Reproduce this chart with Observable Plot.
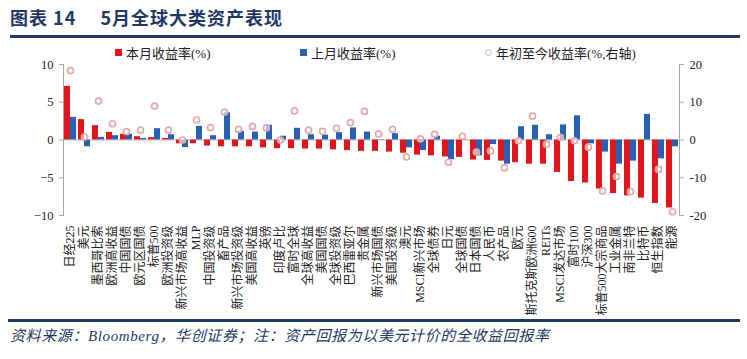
<!DOCTYPE html>
<html>
<head>
<meta charset="utf-8">
<script src="https://cdn.jsdelivr.net/npm/d3@7"></script>
<script src="https://cdn.jsdelivr.net/npm/@observablehq/plot@0.6"></script>
<style>
  html, body { margin: 0; padding: 0; background: #fff; }
  #page { position: relative; width: 747px; height: 359px; overflow: hidden; font-family: "Liberation Serif", "Noto Sans CJK SC", serif; }
  .title { position: absolute; left: 10px; top: 4px; font-family: "Noto Sans CJK SC", sans-serif; font-weight: 700; font-size: 18px; letter-spacing: 1px; color: #1f3864; white-space: pre; }
  .rule { position: absolute; background: #1f3864; }
  .legend { position: absolute; top: 43px; font-size: 13px; color: #222; white-space: nowrap; display: flex; align-items: center; }
  .sw { display: inline-block; width: 7px; height: 7px; margin-right: 4px; }
  .circ { display: inline-block; width: 5px; height: 5px; border: 1.6px solid #e3a9a9; border-radius: 50%; margin-right: 4px; }
  #chart { position: absolute; left: 0; top: 58px; }
  .caption { position: absolute; left: 10px; top: 324px; font-style: italic; font-size: 15px; letter-spacing: 0.6px; color: #1f3864; white-space: nowrap; font-family: "Liberation Serif", "Noto Sans CJK SC", serif; }
</style>
</head>
<body>
<div id="page">
  <div class="title">图表 14　 5月全球大类资产表现</div>
  <div class="rule" style="left:10px; top:35px; width:730px; height:3px;"></div>
  <div class="legend" style="left:115px;"><span class="sw" style="background:#e0161c"></span>本月收益率(%)</div>
  <div class="legend" style="left:300px;"><span class="sw" style="background:#2a5fb6"></span>上月收益率(%)</div>
  <div class="legend" style="left:485px;"><span class="circ"></span>年初至今收益率(%,右轴)</div>
  <div id="chart"></div>
  <div class="rule" style="left:8px; top:319px; width:732px; height:3px;"></div>
  <div class="caption">资料来源：Bloomberg，华创证券；注：资产回报为以美元计价的全收益回报率</div>
</div>
<script>
const categories = ["日经225","美元","墨西哥比索","欧洲高收益","中国国债","欧元区国债","标普500","欧洲投资级","新兴市场高收益","MLP","中国投资级","畜产品","新兴市场投资级","美国高收益","英镑","印度卢比","富时全球","全球高收益","美国国债","全球投资级","巴西雷亚尔","贵金属","新兴市场国债","美国投资级","澳元","MSCI新兴市场","全球债券","日元","全球国债","日本国债","人民币","农产品","欧元","斯托克斯欧洲600","REITs","MSCI发达市场","富时100","沪深300","标普500大宗商品","工业金属","南非兰特","比特币","恒生指数","能源"];
const thisMonth = [7.1, 2.7, 1.9, 1.0, 0.75, 0.44, 0.3, 0.2, -0.5, -0.5, -0.8, -0.9, -0.9, -0.9, -1.05, -1.15, -1.15, -1.2, -1.2, -1.3, -1.4, -1.5, -1.5, -1.6, -1.75, -2.0, -2.1, -2.25, -2.3, -2.65, -2.7, -2.8, -3.0, -3.2, -3.2, -4.3, -5.5, -5.7, -6.5, -7.1, -7.4, -7.7, -8.4, -9.0];
const lastMonth = [3.0, -0.9, 0.35, 0.57, 0.75, 0.2, 1.5, 0.7, -1.0, 1.8, 0.57, 3.6, 1.15, 1.05, 1.95, 0.5, 1.55, 0.7, 0.65, 0.97, 1.6, 1.05, 0.05, 0.84, -1.05, -1.4, 0.5, -2.6, -0.05, -2.1, -0.6, -3.2, 1.76, 1.95, 0.7, 2.0, 3.2, -0.5, -1.6, -3.2, -2.8, 3.4, -2.5, -0.9];
const ytd = [18.4, 0.8, 10.3, 4.3, 2.2, 2.6, 9.0, 2.6, 0, 5.3, 3.3, 7.4, 2.8, 3.6, 3.2, 0, 7.7, 2.6, 2.3, 3.1, 4.6, 7.6, 1.6, 2.8, -4.5, 0.3, 1.5, -5.9, 1.0, -3.2, -2.9, -7.4, -0.2, 6.3, -1.1, 0.7, -0.2, -1.9, -13.5, -9.7, -13.7, null, -7.8, -19.0];
const seriesNames = ["本月收益率(%)", "上月收益率(%)"];
const leftTicks = [-10, -5, 0, 5, 10];
const rightTicks = [-20, -10, 0, 10, 20];

const bars = categories.flatMap((c, i) => [
  {cat: c, s: seriesNames[0], v: thisMonth[i]},
  {cat: c, s: seriesNames[1], v: lastMonth[i]}
]);
const dots = categories.map((c, i) => ({cat: c, v: ytd[i]})).filter(d => d.v != null);

const axisColor = "#a6a6a6";
const chart = Plot.plot({
  width: 747,
  height: 262,
  marginLeft: 49,
  marginRight: 55,
  marginTop: 6,
  marginBottom: 105,
  style: {fontFamily: "'Liberation Serif', 'Noto Sans CJK SC', serif", fontSize: "12px", color: "#222", background: "transparent"},
  fx: {domain: categories, padding: 0},
  x: {domain: seriesNames, paddingInner: 0, paddingOuter: 0.11, axis: null},
  y: {domain: [-10, 10]},
  color: {domain: seriesNames, range: ["#e0161c", "#2a5fb6"]},
  marks: [
    Plot.ruleY([0], {stroke: "#bdbdbd", strokeWidth: 1}),
    Plot.barY(bars, {fx: "cat", x: "s", y: "v", fill: "s"}),
    Plot.dot(dots, {fx: "cat", y: d => d.v / 2, r: 3, stroke: "#e3a9a9", strokeWidth: 1.7, fill: "white", fillOpacity: 0.6}),
    Plot.frame({anchor: "left", facetAnchor: "left", stroke: axisColor}),
    Plot.frame({anchor: "right", facetAnchor: "right", stroke: axisColor}),
    Plot.axisY({anchor: "left", ticks: leftTicks, tickSize: 4, tickPadding: 6, stroke: axisColor, fill: "#222", label: null, fontSize: 12.5}),
    Plot.axisY({anchor: "right", ticks: rightTicks.map(t => t / 2), tickFormat: d => String(d * 2), tickSize: 4, tickPadding: 6, stroke: axisColor, fill: "#222", label: null, fontSize: 12.5}),
    Plot.axisFx({anchor: "bottom", tickRotate: -90, tickSize: 0, tickPadding: 10, label: null, fontSize: 12, fill: "#222"})
  ]
});
document.getElementById("chart").appendChild(chart);
</script>
</body>
</html>
